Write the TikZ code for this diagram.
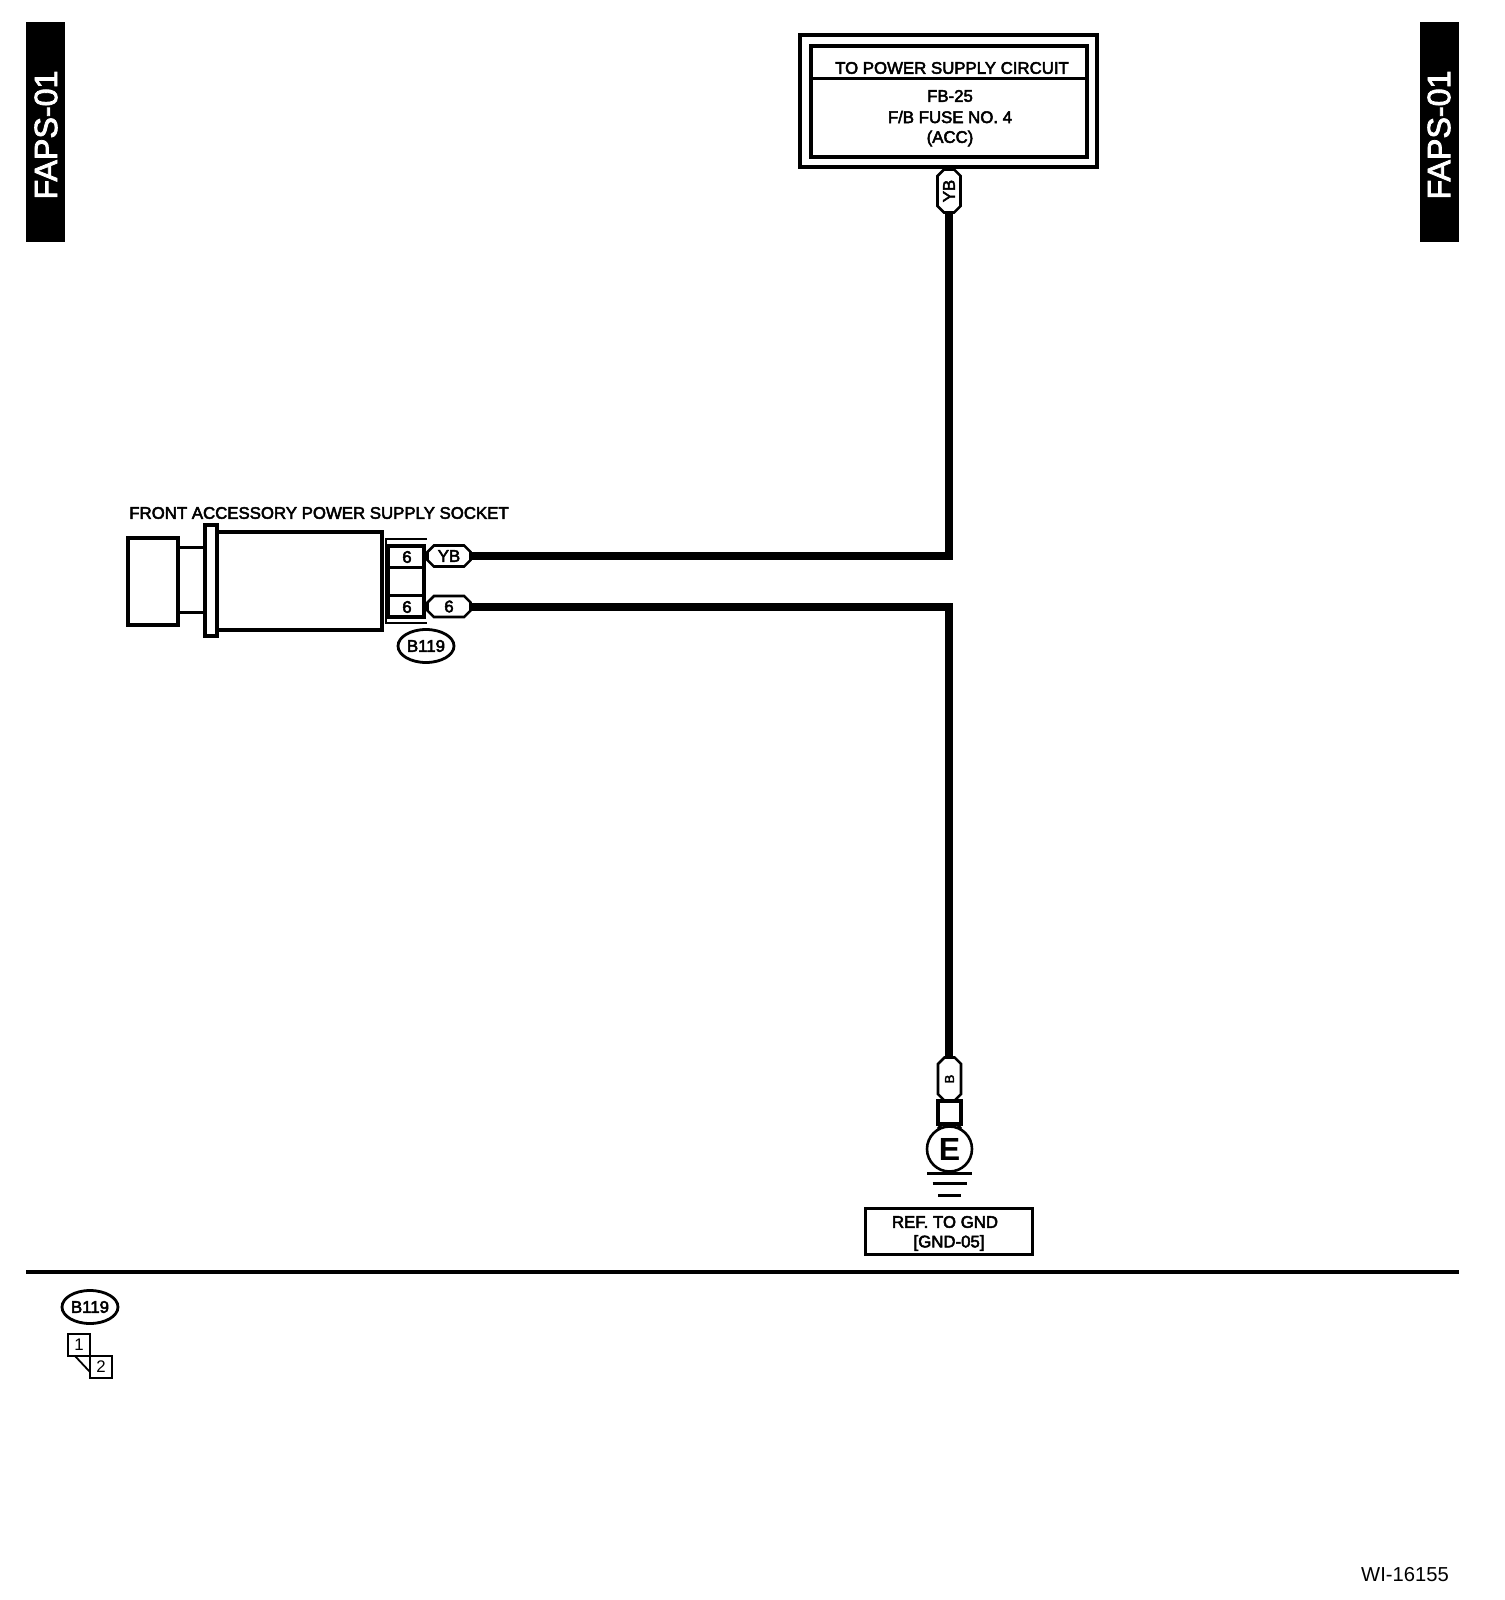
\documentclass[tikz,border=0pt]{standalone}
\usepackage{fontspec}
\usepackage{graphicx}
\setmainfont{Liberation Sans}
\newfontfamily\semi[FakeBold=3]{Liberation Sans}
\newfontfamily\semib[FakeBold=2.5]{Liberation Sans}
\usetikzlibrary{shapes.misc,shapes.geometric}
\tikzset{
  x=0.5pt,y=-0.5pt,
  every node/.style={inner sep=0pt,outer sep=0pt},
  lbl/.style={font=\semi\fontsize{8.4pt}{10pt}\selectfont,align=center},
  thick box/.style={draw=black,line width=1.6pt,rectangle},
  thinbox/.style={draw=black,line width=0.9pt,rectangle},
  wire/.style={draw=black,line width=4pt,line cap=butt,line join=miter},
  line1/.style={draw=black,line width=1.5pt},
  tag/.style={draw=black,line width=1.3pt,fill=white,chamfered rectangle,chamfered rectangle xsep=1.6pt,chamfered rectangle ysep=1.6pt,font=\semi\fontsize{8.4pt}{10pt}\selectfont},
  oval/.style={draw=black,line width=1.4pt,ellipse,minimum width=28pt,minimum height=16.5pt,font=\semi\fontsize{8.4pt}{10pt}\selectfont},
  bar/.style={fill=black,rectangle,minimum width=19.5pt,minimum height=110pt,text=white},
}
\begin{document}
\begin{tikzpicture}
\useasboundingbox (0,0) rectangle (1504,1600);
\fill[white] (0,0) rectangle (1504,1600);
% side bars
\node[bar] (barL) at (45.5,132) {};
\node[bar] (barR) at (1439.5,132) {};
\node[text=white,rotate=90,font=\semib\fontsize{16.1pt}{18pt}\selectfont] (barLt) at (46,135) {FAPS-01};
\node[text=white,rotate=90,font=\semib\fontsize{16.1pt}{18pt}\selectfont] (barRt) at (1439,135) {FAPS-01};
% power supply box
\node[thick box,minimum width=148.5pt,minimum height=66pt] (outer) at (948.5,101) {};
\node[thick box,minimum width=138pt,minimum height=55.5pt] (inner) at (949,101.5) {};
\coordinate (divy) at (949,79);
\draw[line1] (inner.west |- divy) -- (inner.east |- divy);
\node[lbl] (pstitle) at (952,68) {TO POWER SUPPLY CIRCUIT};
\node[lbl] (ps1) at (950,96) {FB-25};
\node[lbl] (ps2) at (950,117) {F/B FUSE NO. 4};
\node[lbl] (ps3) at (950,138.5) {(ACC)};
\node[tag,minimum width=11.5pt,minimum height=21.5pt] (tagtop) at (949,191) {\rotatebox{90}{YB}};
% socket
\node[thick box,minimum width=25pt,minimum height=43.5pt] (cap) at (153,581.5) {};
\draw[line1] (179,547) -- (205,547);
\draw[line1] (179,612) -- (205,612);
\node[thick box,minimum width=82.5pt,minimum height=49pt] (body) at (299.5,581) {};
\node[thick box,minimum width=6pt,minimum height=55.5pt,fill=white] (flange) at (211,580.5) {};
\node[lbl] (sockettitle) at (319,513) {FRONT ACCESSORY POWER SUPPLY SOCKET};
\draw[draw=black,line width=1pt] (427,539) -- (385.5,539) -- (385.5,623) -- (427,623);
\node[thick box,minimum width=18pt,minimum height=35.5pt] (conn) at (406,581.5) {};
\draw[line1] (388,567) -- (424,567);
\draw[line1] (388,595) -- (424,595);
\node[lbl] (pin1) at (407,557) {6};
\node[lbl] (pin2) at (407,607) {6};
\node[tag,minimum width=21.5pt,minimum height=10.5pt] (tagYB) at (449,556) {YB};
\node[tag,minimum width=21.5pt,minimum height=10.5pt] (tag6) at (449,606.5) {6};
\node[oval] (oval1) at (426,646) {B119};
% wires
\draw[wire] (tagtop.south) |- (tagYB.east);
\coordinate (gndtagtop) at (949,1057);
\draw[wire] (tag6.east) -| (gndtagtop);
% ground
\node[tag,minimum width=11.5pt,minimum height=21.5pt,font=\semi\fontsize{6.5pt}{7pt}\selectfont] (tagB) at (949.5,1079) {\rotatebox{90}{B}};
\node[thick box,minimum width=11.5pt,minimum height=11.5pt] (sq) at (949.5,1112.5) {};
\coordinate (neckL) at (942,1124);
\coordinate (neckR) at (957,1124);
\draw[line1] (neckL) -- ++(-4,5);
\draw[line1] (neckR) -- ++(4,5);
\node[draw=black,line width=1.3pt,circle,minimum size=22.5pt,fill=white] (earth) at (949.5,1149) {};
\node[font=\bfseries\fontsize{16pt}{18pt}\selectfont] (earthE) at (949.5,1149) {E};
\coordinate (g1) at (949.5,1173);
\coordinate (g2) at (949.5,1183.5);
\coordinate (g3) at (949.5,1195);
\draw[line1] ([xshift=-11.25pt]g1) -- ([xshift=11.25pt]g1);
\draw[line1] ([xshift=-8.5pt]g2) -- ([xshift=8.5pt]g2);
\draw[line1] ([xshift=-5.75pt]g3) -- ([xshift=5.75pt]g3);
\node[thick box,minimum width=83.5pt,minimum height=23pt] (refbox) at (949,1231.5) {};
\node[lbl] (ref1) at (945,1222) {REF. TO GND};
\node[lbl] (ref2) at (949,1243) {[GND-05]};
% separator
\coordinate (sepL) at (26,1272);
\coordinate (sepR) at (1459,1272);
\draw[draw=black,line width=1.6pt] (sepL) -- (sepR);
% legend
\node[oval] (oval2) at (90,1307) {B119};
\node[thinbox,minimum width=11pt,minimum height=11pt,font=\fontsize{8.4pt}{10pt}\selectfont] (pinA) at (79,1345) {1};
\node[thinbox,minimum width=11pt,minimum height=11pt,font=\fontsize{8.4pt}{10pt}\selectfont] (pinB) at (101,1367) {2};
\coordinate (diagA) at (75,1356);
\coordinate (diagB) at (90,1372);
\draw[draw=black,line width=0.9pt] (diagA) -- (diagB);
\node[font=\fontsize{10.1pt}{12pt}\selectfont] (wi) at (1405,1575) {WI-16155};
\end{tikzpicture}
\end{document}
